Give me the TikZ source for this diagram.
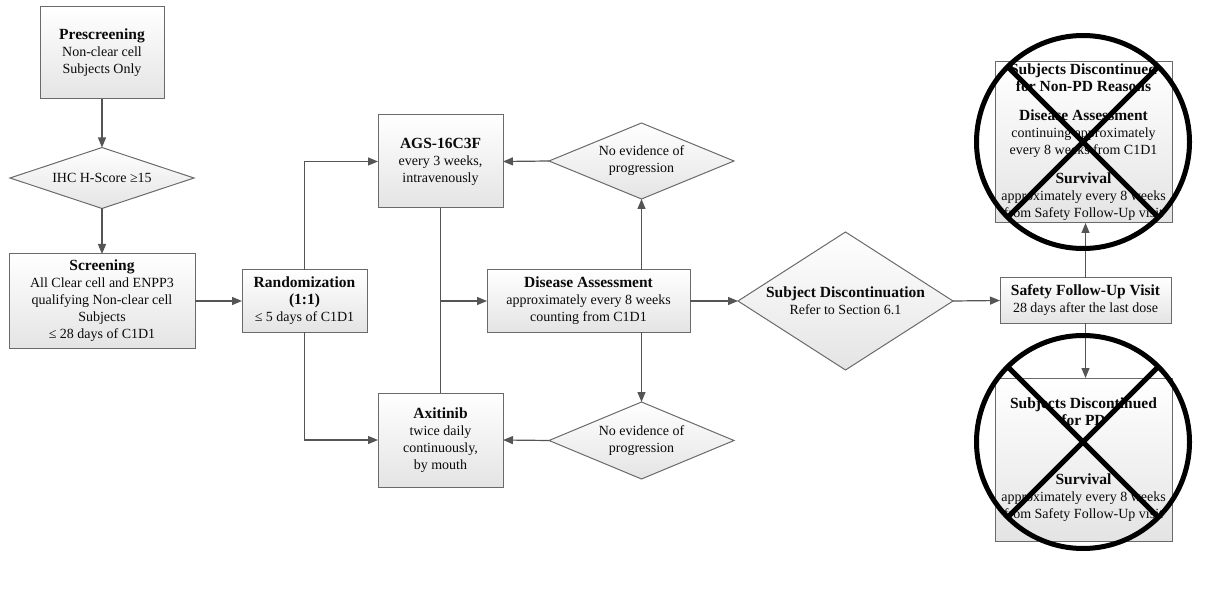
\documentclass[tikz,border=0pt]{standalone}
\usepackage{fontspec}
\setmainfont{Liberation Serif}
\usetikzlibrary{shapes.geometric,arrows.meta}
\definecolor{ln}{HTML}{555555}
\definecolor{bd}{HTML}{6A6A6A}
\definecolor{fillb}{HTML}{E4E4E4}
\definecolor{txt}{HTML}{0A0A0A}
\newcommand\ttl[1]{{\fontsize{15.5}{18}\selectfont\bfseries #1}}
\tikzset{
  box/.style={draw=bd, line width=1pt, top color=white, bottom color=fillb,
    inner sep=0pt, outer sep=0pt, align=center, text=txt,
    font=\fontsize{14}{17}\selectfont},
  dia/.style={box, diamond},
  dtext/.style={align=center, text=txt, font=\fontsize{14}{17}\selectfont, inner sep=0pt},
  conn/.style={draw=ln, line width=1.2pt},
  arr/.style={conn, -{Triangle[length=10pt,width=8pt]}},
  cross/.style={draw=black, line width=5pt},
  xcirc/.style={circle, cross, inner sep=0pt, outer sep=0pt, minimum size=213}
}
\begin{document}
\begin{tikzpicture}[x=1pt,y=-1pt]
\useasboundingbox (0,0) rectangle (1222,593);
% boxes
\node[box, minimum width=124, minimum height=92] (pre) at (102,53)
  {\ttl{Prescreening}\\Non-clear cell\\Subjects Only};
\node[dia, minimum width=184, minimum height=61,
  label={[dtext]center:IHC H-Score ≥15}] (ihc) at (102,178) {};
\node[box, minimum width=186, minimum height=94] (scr) at (102,301)
  {\ttl{Screening}\\All Clear cell and ENPP3\\qualifying Non-clear cell\\Subjects\\≤ 28 days of C1D1};
\node[box, minimum width=125, minimum height=62] (rand) at (304.5,301)
  {\ttl{Randomization}\\\ttl{(1:1)}\\≤ 5 days of C1D1};
\node[box, minimum width=125, minimum height=93] (ags) at (440.5,161.5)
  {\ttl{AGS-16C3F}\\every 3 weeks,\\intravenously};
\node[box, minimum width=125, minimum height=94] (axi) at (440.5,440)
  {\ttl{Axitinib}\\twice daily\\continuously,\\by mouth};
\node[box, minimum width=203, minimum height=62] (da) at (588.5,301)
  {\ttl{Disease Assessment}\\approximately every 8 weeks\\counting from C1D1};
\node[dia, minimum width=185, minimum height=76,
  label={[dtext]center:No evidence of\\progression}] (nd1) at (641.5,161) {};
\node[dia, minimum width=185, minimum height=77,
  label={[dtext]center:No evidence of\\progression}] (nd2) at (641.5,440.5) {};
\node[dia, minimum width=215, minimum height=138,
  label={[dtext]center:\ttl{Subject Discontinuation}\\Refer to Section 6.1}] (sd) at (845.5,301) {};
\node[box, minimum width=171, minimum height=45] (saf) at (1085.5,300.5)
  {\ttl{Safety Follow-Up Visit}\\28 days after the last dose};
\node[box, minimum width=177, minimum height=161] (up) at (1083.5,142.5)
  {\ttl{Subjects Discontinued}\\\ttl{for Non-PD Reasons}\\[12pt]\ttl{Disease Assessment}\\continuing approximately\\every 8 weeks from C1D1\\[12pt]\ttl{Survival}\\approximately every 8 weeks\\from Safety Follow-Up visit};
\node[box, minimum width=177, minimum height=163] (lo) at (1083.5,459.5)
  {\ttl{Subjects Discontinued}\\\ttl{for PD}\\[42pt]\ttl{Survival}\\approximately every 8 weeks\\from Safety Follow-Up visit};
% connectors
\draw[arr] (pre.south) -- (ihc.north);
\draw[arr] (ihc.south) -- (scr.north);
\draw[arr] (scr.east) -- (rand.west);
\draw[arr] (rand.north) |- (ags.west);
\draw[arr] (rand.south) |- (axi.west);
\draw[conn] (ags.south) -- (axi.north);
\coordinate (j) at (ags.south |- da.west);
\draw[arr] (j) -- (da.west);
\draw[arr] (nd1.south |- da.north) -- (nd1.south);
\draw[arr] (nd2.north |- da.south) -- (nd2.north);
\draw[arr] (nd1.west) -- (ags.east);
\draw[arr] (nd2.west) -- (axi.east);
\draw[arr] (da.east) -- (sd.west);
\draw[arr] (sd.east) -- (saf.west);
\draw[arr] (saf.north) -- (saf.north |- up.south);
\draw[arr] (saf.south) -- (saf.south |- lo.north);
% crosses
\node[xcirc] (x1) at (1083,142) {};
\draw[cross] (x1.north west) -- (x1.south east);
\draw[cross] (x1.north east) -- (x1.south west);
\node[xcirc] (x2) at (1083,442) {};
\draw[cross] (x2.north west) -- (x2.south east);
\draw[cross] (x2.north east) -- (x2.south west);
\end{tikzpicture}
\end{document}
